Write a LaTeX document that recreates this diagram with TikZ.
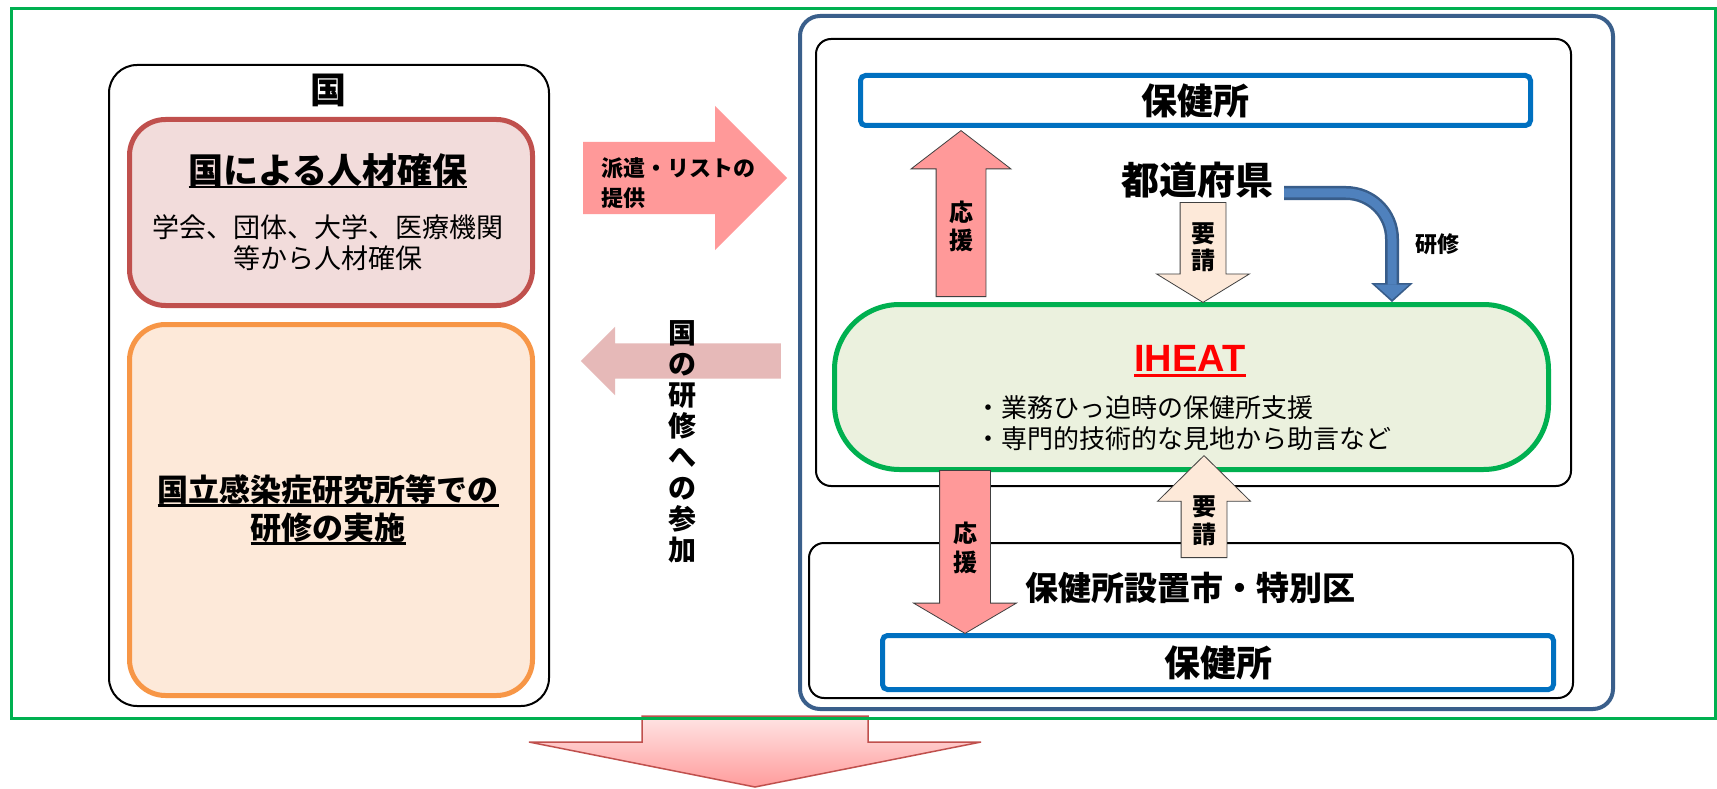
\documentclass[tikz,border=0pt]{standalone}
\usepackage{fontspec}
\setmainfont{Noto Sans CJK JP}
\newfontfamily\latinfont{Liberation Sans}
\usetikzlibrary{shapes.arrows,arrows.meta}

\definecolor{framegreen}{HTML}{00B050}
\definecolor{prefblue}{HTML}{3A5F8B}
\definecolor{hcblue}{HTML}{0070C0}
\definecolor{redline}{HTML}{C0504D}
\definecolor{redfill}{HTML}{F2DCDB}
\definecolor{orangeline}{HTML}{F79646}
\definecolor{orangefill}{HTML}{FDE9D9}
\definecolor{pillfill}{HTML}{EBF1DE}
\definecolor{arrowpink}{HTML}{FF9999}
\definecolor{arrowrose}{HTML}{E6B9B8}
\definecolor{arrowpeach}{HTML}{FDE9D9}
\definecolor{kenshudark}{HTML}{385D8A}
\definecolor{kenshublue}{HTML}{4F81BD}
\definecolor{bigtop}{HTML}{FFE4E4}
\definecolor{bigbottom}{HTML}{FF9C9C}

\newcommand\uln[1]{\setbox0\hbox{#1}\rlap{\smash{\rule[-5pt]{\wd0}{2.5pt}}}\box0}

\tikzset{
  txt/.style 2 args={font=\fontsize{#1}{#2}\selectfont,inner sep=0pt,align=center},
  btxt/.style 2 args={font=\fontsize{#1}{#2}\selectfont\bfseries,inner sep=0pt,align=center},
  panel/.style={anchor=north west,inner sep=0pt},
  blockarrow/.style={single arrow,anchor=tail,single arrow head indent=0pt},
  shaft/.style={inner sep=#1},
  thinedge/.style={draw=black!75,line width=0.8pt},
}

\begin{document}
\begin{tikzpicture}[x=1pt,y=-1pt]

      \path[fill=white] (0,0) rectangle (1717,789);
      \useasboundingbox (0,0) rectangle (1717,789);

      \draw[redline,line width=1.5pt,top color=bigtop,bottom color=bigbottom]
        (642,716) -- (642,742) -- (529,742) -- (755,787) -- (981,742) -- (868,742) -- (868,716) -- cycle;

      \begin{scope}[every node/.style={panel}]
        \node[draw=framegreen,line width=3pt,minimum width=1704pt,minimum height=710pt] (frame) at (10,7) {};
        \node[draw,line width=2pt,rounded corners=28pt,minimum width=440pt,minimum height=641pt] (kuni) at (108,64) {};
        \node[draw=redline,fill=redfill,line width=5pt,rounded corners=36pt,minimum width=403pt,minimum height=186pt] (jinzai) at (127,117) {};
        \node[draw=orangeline,fill=orangefill,line width=5pt,rounded corners=36pt,minimum width=403pt,minimum height=371pt] (kenshu) at (127,322) {};
        \node[draw=prefblue,line width=4pt,rounded corners=20pt,minimum width=813pt,minimum height=693pt] (pref) at (798,14) {};
        \node[draw,line width=2pt,rounded corners=15pt,minimum width=755pt,minimum height=447pt] (upper) at (815,38) {};
        \node[draw,line width=2pt,rounded corners=15pt,minimum width=764pt,minimum height=155pt] (lower) at (808,542) {};
        \node[draw=hcblue,fill=white,line width=5pt,rounded corners=5pt,minimum width=670pt,minimum height=50pt,btxt={36}{40}] (hc1) at (858,73) {保健所};
        \node[draw=hcblue,fill=white,line width=5pt,rounded corners=5pt,minimum width=671pt,minimum height=54pt,btxt={36}{40}] (hc2) at (880,633) {保健所};
        \node[draw=framegreen,fill=pillfill,line width=5pt,rounded corners=65pt,minimum width=714pt,minimum height=165pt] (iheat) at (832,302) {};
      \end{scope}

      \begin{scope}[every node/.style={blockarrow}]
        \node[fill=arrowpink,shaft=36pt,minimum height=204pt,minimum width=144pt,single arrow head extend=36pt] (haken) at (583,178) {};
        \node[fill=arrowrose,shaft=17.5pt,shape border rotate=180,minimum height=200pt,minimum width=68pt,single arrow head extend=16.5pt] (sanka) at (781,361) {};
        \node[thinedge,fill=arrowpink,shaft=24.5pt,shape border rotate=90,minimum height=166pt,minimum width=99pt,single arrow head extend=25pt,single arrow tip angle=105] (ouen1) at (961,297) {};
        \node[thinedge,fill=arrowpeach,shaft=22.5pt,shape border rotate=270,minimum height=100pt,minimum width=92pt,single arrow head extend=23.5pt,single arrow tip angle=117] (yousei1) at (1203,202) {};
        \node[thinedge,fill=arrowpink,shaft=25pt,shape border rotate=270,minimum height=163pt,minimum width=102pt,single arrow head extend=26pt,single arrow tip angle=119] (ouen2) at (965,470) {};
        \node[thinedge,fill=arrowpeach,shaft=22.5pt,shape border rotate=90,minimum height=102pt,minimum width=92pt,single arrow head extend=23.5pt,single arrow tip angle=91] (yousei2) at (1204,558) {};
      \end{scope}

      \node[btxt={36}{40}] (kunilabel) at (328,90) {国};
      \node[btxt={35}{40}] (jinzailabel) at (328,170) {\uln{国による人材確保}};
      \node[txt={27}{31}] (jinzaisub) at (328,243) {学会、団体、大学、医療機関\\等から人材確保};
      \node[btxt={31}{38}] (kenshulabel) at (328,509) {\uln{国立感染症研究所等での}\\\uln{研修の実施}};
      \node[btxt={22}{30},align=left,anchor=west] (hakenlabel) at (601,183) {派遣・リストの\\提供};
      \node[btxt={28}{31}] (sankalabel) at (682,441.5) {国\\の\\研\\修\\へ\\の\\参\\加};

      \node[btxt={38}{40}] (todofuken) at (1197,180) {都道府県};
      \node[btxt={24}{28}] (ouen1label) at (961,226) {応\\援};
      \node[btxt={24}{27}] (yousei1label) at (1203,247) {要\\請};
      \node[btxt={22}{26}] (kenshuline) at (1437,244) {研修};
      \node[font=\latinfont\fontsize{38}{40}\selectfont\bfseries,text=red,inner sep=0pt] (iheatname) at (1190,358.5) {\uln{IHEAT}};
      \node[txt={26}{31},align=left,anchor=west] (iheattext) at (975,423.5) {・業務ひっ迫時の保健所支援\\・専門的技術的な見地から助言など};
      \node[btxt={24}{29}] (ouen2label) at (965,547.5) {応\\援};
      \node[btxt={24}{28}] (yousei2label) at (1204,521) {要\\請};
      \node[btxt={33}{38}] (setchishi) at (1190,588) {保健所設置市・特別区};

      \coordinate (kend) at (1392,0);
      \draw[rounded corners=46pt,line width=14pt,kenshudark,-{Triangle[width=42pt,length=19pt,line width=0pt]}]
        ([shift={(11,13)}]todofuken.east) -| (iheat.north -| kend);
      \draw[rounded corners=46pt,line width=9pt,kenshublue,shorten >=2.5pt,-{Triangle[width=34pt,length=15pt,line width=0pt]}]
        ([shift={(11,13)}]todofuken.east) -| (iheat.north -| kend);

\end{tikzpicture}
\end{document}
